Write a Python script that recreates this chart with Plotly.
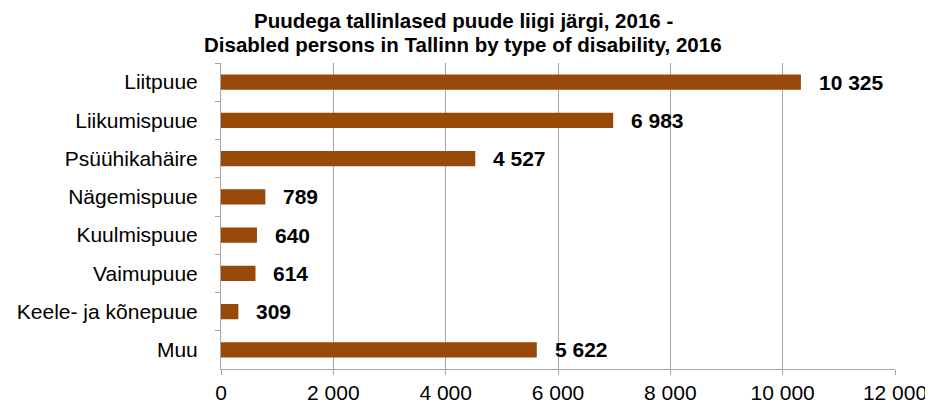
import plotly.graph_objects as go

categories = ["Liitpuue", "Liikumispuue", "Psüühikahäire", "Nägemispuue",
              "Kuulmispuue", "Vaimupuue", "Keele- ja kõnepuue", "Muu"]
values = [10325, 6983, 4527, 789, 640, 614, 309, 5622]
tick_vals = [0, 2000, 4000, 6000, 8000, 10000, 12000]
title_lines = ["Puudega tallinlased puude liigi järgi, 2016 -",
               "Disabled persons in Tallinn by type of disability, 2016"]

FONT = "Liberation Sans, Arial"
FS = 21

def fmt(v):
    return f"{v:,}".replace(",", " ")

fig = go.Figure(go.Bar(
    y=categories, x=values, orientation="h",
    marker=dict(color="#984807", line=dict(width=0)),
    width=0.4,
))

for c, v in zip(categories, values):
    fig.add_annotation(x=v, y=c, text=fmt(v), showarrow=False,
                       xanchor="left", xshift=16,
                       font=dict(family=FONT, size=FS, color="black", weight="bold"))

# page body has an 8px margin; figure is 925x397 so page totals 933x405
W, H = 925, 397
ML, MR, MT, MB = 213, 38, 55, 36
plot_h = H - MT - MB
plot_w = W - ML - MR
cx = (455 - ML) / plot_w

for i, line in enumerate(title_lines):
    cy = [12, 36][i]  # centre of line in figure pixels
    fig.add_annotation(text=f"<b>{line}</b>", xref="paper", yref="paper",
                       x=cx, y=(H - MB - cy) / plot_h, xanchor="center", yanchor="middle",
                       showarrow=False,
                       font=dict(family=FONT, size=20.5, color="black"))

fig.update_layout(
    width=W, height=H,
    margin=dict(l=ML, r=MR, t=MT, b=MB),
    paper_bgcolor="white", plot_bgcolor="white",
    showlegend=False,
    font=dict(family=FONT, size=FS, color="black"),
)
fig.update_xaxes(range=[0, 12000], tickvals=tick_vals,
                 ticktext=[fmt(t) for t in tick_vals],
                 showgrid=True, gridcolor="#a6a6a6", gridwidth=1,
                 showline=True, linecolor="#a6a6a6", linewidth=1,
                 ticks="outside", ticklen=5, tickcolor="#a6a6a6",
                 zeroline=False, tickfont=dict(size=FS), automargin=False)
fig.update_yaxes(autorange="reversed", categoryorder="array", categoryarray=categories,
                 showline=True, linecolor="#a6a6a6", linewidth=1,
                 ticks="outside", ticklen=5, tickcolor="#a6a6a6", tickson="boundaries",
                 showgrid=False, tickfont=dict(size=FS), ticklabelstandoff=18,
                 automargin=False)

fig.write_html("out.html")
